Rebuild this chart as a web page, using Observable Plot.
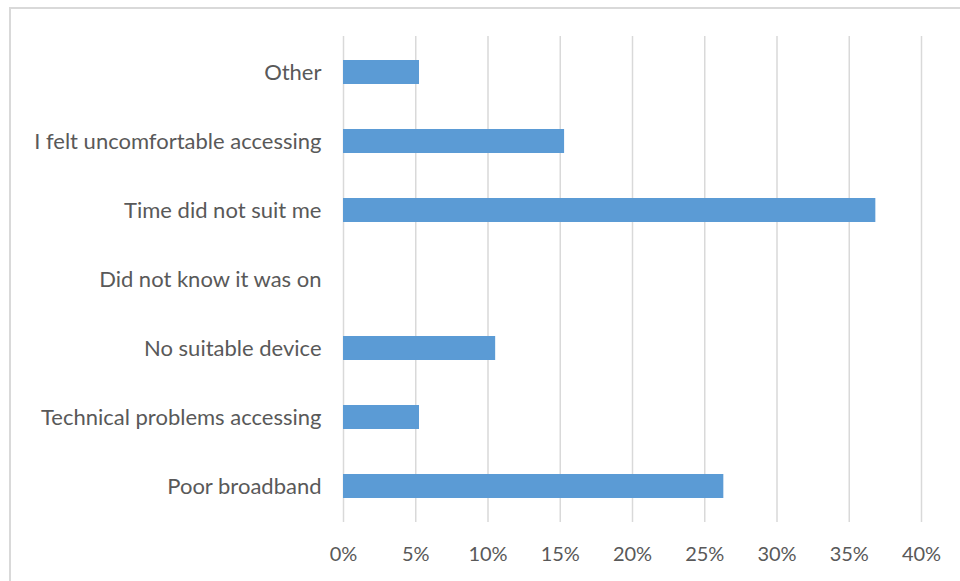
<!DOCTYPE html>
<html>
<head>
<meta charset="utf-8">
<script src="https://cdn.jsdelivr.net/npm/d3@7"></script>
<script src="https://cdn.jsdelivr.net/npm/@observablehq/plot@0.6"></script>
<style>
  html, body { margin: 0; padding: 0; background: #fff; overflow: hidden; }
  #wrap { position: relative; width: 960px; height: 581px; }
  #frame { position: absolute; left: 9px; top: 7px; width: 960px; height: 600px; border: 2px solid #d9d9d9; box-sizing: border-box; pointer-events: none; }
  #chart { position: absolute; left: 0; top: 0; }
</style>
</head>
<body>
<div id="wrap"><div id="frame"></div><div id="chart"></div></div>
<script>
const categories = [
  "Other",
  "I felt uncomfortable accessing",
  "Time did not suit me",
  "Did not know it was on",
  "No suitable device",
  "Technical problems accessing",
  "Poor broadband"
];
const values = [0.0526, 0.153, 0.3684, 0, 0.1053, 0.0526, 0.2632];
const xTicks = [0, 0.05, 0.10, 0.15, 0.20, 0.25, 0.30, 0.35, 0.40];

const data = categories.map((c, i) => ({category: c, value: values[i]}));

const chart = Plot.plot({
  width: 960,
  height: 581,
  marginLeft: 343,
  marginRight: 39,
  marginTop: 36,
  marginBottom: 59,
  style: {fontFamily: "Lato, 'Open Sans', sans-serif", fontSize: "20px", color: "#595959", background: "transparent"},
  x: {domain: [0, 0.40], ticks: xTicks, tickFormat: d => Math.round(d * 100) + "%", label: null},
  y: {domain: categories, label: null, paddingInner: 0.65, paddingOuter: 0.325},
  marks: [
    Plot.gridX(xTicks, {stroke: "#d9d9d9", strokeOpacity: 1, strokeWidth: 1.5}),
    Plot.barX(data, {x: "value", y: "category", fill: "#5b9bd5"}),
    Plot.axisX(xTicks, {tickSize: 0, tickPadding: 24, fill: "#595959", fontSize: 20, tickFormat: d => Math.round(d * 100) + "%", label: null}),
    Plot.axisY({tickSize: 0, tickPadding: 22, fill: "#595959", fontSize: 22, label: null})
  ]
});
document.getElementById("chart").appendChild(chart);
</script>
</body>
</html>
